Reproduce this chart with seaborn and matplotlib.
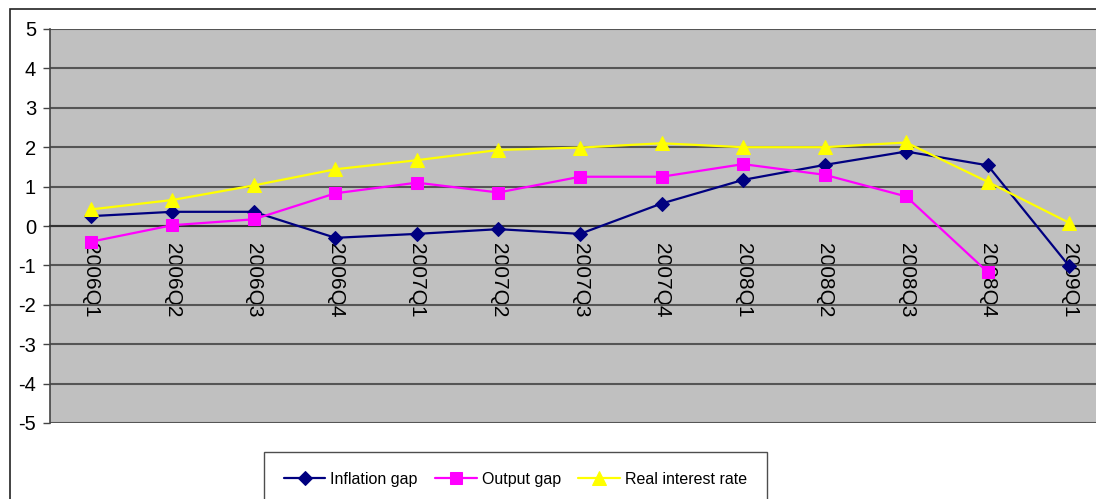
import pandas as pd
import seaborn as sns
import matplotlib.pyplot as plt
from matplotlib.patches import Rectangle

# Data
quarters = ["2006Q1", "2006Q2", "2006Q3", "2006Q4", "2007Q1", "2007Q2", "2007Q3",
            "2007Q4", "2008Q1", "2008Q2", "2008Q3", "2008Q4", "2009Q1"]
inflation_gap = [0.25, 0.36, 0.36, -0.30, -0.20, -0.08, -0.20, 0.57, 1.17, 1.55, 1.89, 1.54, -1.02]
output_gap = [-0.40, 0.02, 0.17, 0.83, 1.10, 0.85, 1.25, 1.25, 1.57, 1.30, 0.75, -1.17, None]
real_rate = [0.42, 0.66, 1.03, 1.44, 1.67, 1.93, 1.99, 2.10, 2.00, 2.00, 2.12, 1.12, 0.08]

series_names = ["Inflation gap", "Output gap", "Real interest rate"]
colors = ["#000080", "#FF00FF", "#FFFF00"]
markers = ["D", "s", "^"]
msizes = [7, 8, 10]

df = pd.DataFrame({"pos": range(len(quarters)), "quarter": quarters,
                   "Inflation gap": inflation_gap, "Output gap": output_gap,
                   "Real interest rate": real_rate})
long_df = df.melt(id_vars=["pos", "quarter"], var_name="series", value_name="value").dropna()

sns.set_style("white")
plt.rcParams["font.family"] = ["Liberation Sans", "DejaVu Sans"]
plt.rcParams["axes.unicode_minus"] = False
plt.rcParams["text.color"] = "black"

fig = plt.figure(figsize=(10.96, 4.99), dpi=100)
ax = fig.add_axes([50 / 1096, 1 - 423 / 499, 1060 / 1096, 394 / 499])
ax.set_facecolor("#C0C0C0")

# outer chart border
fig.patches.append(Rectangle((10 / 1096, -0.05), 1.2, 1 - 9 / 499 + 0.05, transform=fig.transFigure,
                             fill=False, edgecolor="#222222", linewidth=1.2, zorder=0))

for name, c, m, s in zip(series_names, colors, markers, msizes):
    sub = long_df[long_df["series"] == name]
    sns.lineplot(data=sub, x="pos", y="value", ax=ax, color=c, marker=m, markersize=s,
                 markeredgecolor=c, linewidth=1.6, label=name, legend=False, zorder=3)

ax.set_xlim(-0.5, len(quarters) - 0.5)
ax.set_ylim(-5, 5)
ax.set_yticks(range(-5, 6))
ax.yaxis.grid(True, color="#555555", linewidth=1.5)
ax.set_axisbelow(True)

for side in ["top", "right"]:
    ax.spines[side].set_visible(False)
ax.spines["left"].set_color("#444444")
ax.spines["left"].set_linewidth(1.2)
ax.spines["bottom"].set_position(("data", 0))
ax.spines["bottom"].set_color("#333333")
ax.spines["bottom"].set_linewidth(1.5)

ax.set_xticks(range(len(quarters)))
ax.set_xticklabels(quarters, rotation=-90, fontsize=15)
ax.set_xticks([i + 0.5 for i in range(len(quarters) - 1)], minor=True)
ax.tick_params(axis="x", which="major", length=0, pad=12, labelcolor="black")
ax.tick_params(axis="x", which="minor", length=6, width=1, color="#333333", direction="out")
ax.tick_params(axis="y", length=5, width=1, color="#444444", pad=5, labelsize=14.5,
               left=True, labelcolor="black")
ax.set_xlabel("")
ax.set_ylabel("")

handles, labels = ax.get_legend_handles_labels()
leg = fig.legend(handles, labels, loc="upper left", bbox_to_anchor=(264 / 1096, 1 - 452 / 499),
                 ncol=3, fontsize=11.5, frameon=True, fancybox=False, edgecolor="#222222",
                 handlelength=2.6, columnspacing=1.1, borderpad=1.25, handletextpad=0.3,
                 borderaxespad=0)
leg.get_frame().set_linewidth(1.0)
for t in leg.get_texts():
    t.set_color("black")

fig.savefig("out.png", dpi=100)
